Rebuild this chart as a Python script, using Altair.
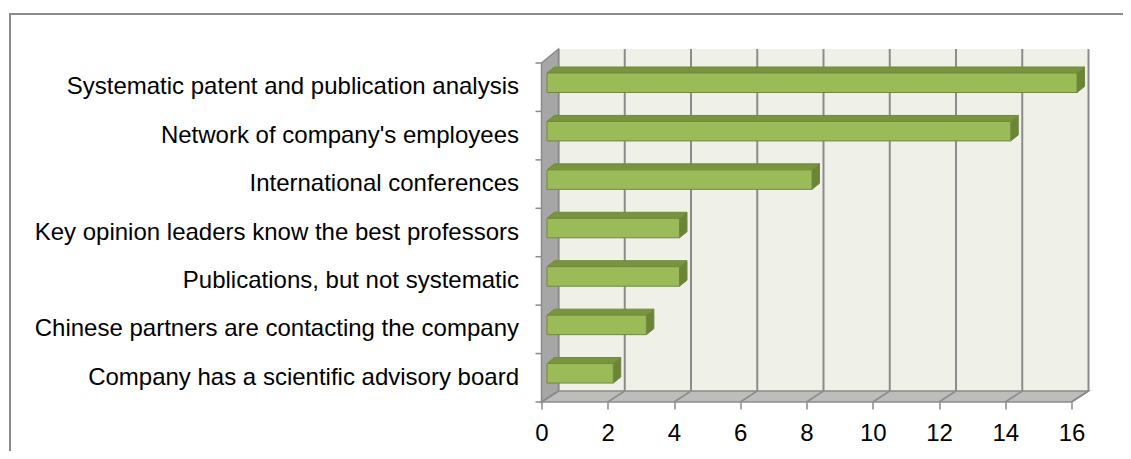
import altair as alt
import pandas as pd

# ---------------- data ----------------
categories = [
    "Systematic patent and publication analysis",
    "Network of company's employees",
    "International conferences",
    "Key opinion leaders know the best professors",
    "Publications, but not systematic",
    "Chinese partners are contacting the company",
    "Company has a scientific advisory board",
]
values = [16, 14, 8, 4, 4, 3, 2]
x_ticks = [0, 2, 4, 6, 8, 10, 12, 14, 16]

# ---------------- style / geometry ----------------
W, H = 530, 339
N = len(categories)
XMAX = 16
PXX = XMAX / W          # x data units per pixel
PXY = N / H             # y data units per pixel
DX, DYT, DYB = 17, -14, -11   # 3-D depth of the walls (px)
BX, BY = 7.5, 6               # 3-D depth of the bars (px)
BOFF = 5.5                    # bar front face shift (px)
BT, BB = 10, 29.5             # bar front face top / bottom inside band (px)
FONT = "Liberation Sans"
PAD_L, PAD_T = 533.5, 55
PAD_R = 1115 - PAD_L - W
PAD_B = 443 - PAD_T - H

WALL = "#EFF1E8"
LWALL = "#A6A6A6"
FLOOR = "#BDBEB9"
GRID = "#8C8C8C"
EDGE = "#8A8A8A"
FRONT = "#9BBB59"
TOP = "#78953E"
SIDE = "#6A8634"
OUTLINE = "#71893F"

df = pd.DataFrame({"category": categories, "value": values, "idx": list(range(N))})
ticks_df = pd.DataFrame({"tick": x_ticks})
bounds_df = pd.DataFrame({"b": list(range(N + 1))})
edges_df = pd.DataFrame({"edge": [0, 1]})
one_df = pd.DataFrame({"k": [0]})
bar_edges = df.merge(edges_df, how="cross")

xs = alt.Scale(domain=[0, XMAX], nice=False, zero=False)
ys = alt.Scale(domain=[0, N], reverse=True, nice=False, zero=False)
xaxis = alt.Axis(
    values=x_ticks, title=None, grid=False, domain=False,
    tickSize=7, tickColor=EDGE, tickWidth=1.5,
    labelFontSize=24, labelFont=FONT, labelColor="#000000",
    labelPadding=12, labelFlush=False, labelOverlap=False,
)


def X(*args, **kw):
    return alt.X(*args, scale=xs, axis=xaxis, **kw)


def Y(*args, **kw):
    return alt.Y(*args, scale=ys, axis=None, **kw)


# outer chart frame
border = alt.Chart(one_df).mark_rect(filled=False, stroke="#8C8C8C", strokeWidth=2).encode(
    x=alt.value(10 - 8 - PAD_L), x2=alt.value(W + 300),
    y=alt.value(14 - 8 - PAD_T), y2=alt.value(H + 300)
)

# back wall
back = alt.Chart(one_df).mark_rect(
    fill=WALL, xOffset=DX + 0.5, x2Offset=DX - 0.5, yOffset=DYT, y2Offset=DYB
).encode(
    x=X(datum=0), x2=alt.X2(datum=XMAX),
    y=Y(datum=0), y2=alt.Y2(datum=N),
)

bgrid = alt.Chart(ticks_df).mark_rule(
    color=GRID, strokeWidth=2, xOffset=DX, yOffset=DYT, y2Offset=DYB
).encode(
    x=X("tick:Q"),
    y=Y(datum=0), y2=alt.Y2(datum=N),
)

# left wall
lwall = alt.Chart(edges_df).transform_calculate(
    lx=f"datum.edge*{DX * PXX}",
    ly=f"datum.edge*{DYT * PXY}",
    ly2=f"{N} + datum.edge*{DYB * PXY}",
).mark_area(orient="vertical", fill=LWALL, stroke=EDGE, strokeWidth=1.5).encode(
    x=X("lx:Q"),
    y=Y("ly:Q"), y2="ly2:Q",
)

# floor
floor = alt.Chart(edges_df).transform_calculate(
    fx=f"datum.edge*{DX * PXX}",
    fx2=f"{XMAX} + datum.edge*{DX * PXX}",
    fy=f"{N} + datum.edge*{DYB * PXY}",
).mark_area(orient="horizontal", fill=FLOOR, stroke=EDGE, strokeWidth=1.5).encode(
    y=Y("fy:Q"),
    x=X("fx:Q"), x2="fx2:Q",
)

fgrid = alt.Chart(ticks_df).transform_calculate(
    gx2=f"datum.tick + {DX * PXX}",
).mark_rule(color=GRID, strokeWidth=1.5, y2Offset=DYB).encode(
    x=X("tick:Q"), x2="gx2:Q",
    y=Y(datum=N), y2=alt.Y2(datum=N),
)

# y tick marks at band boundaries
yticks = alt.Chart(bounds_df).mark_rule(color=EDGE, strokeWidth=1.5, xOffset=-6).encode(
    x=X(datum=0), x2=alt.X2(datum=0),
    y=Y("b:Q"),
)

# bar side faces
side = alt.Chart(bar_edges).transform_calculate(
    sx=f"datum.value + ({BOFF} + {BX}*datum.edge)*{PXX}",
    sy=f"datum.idx + ({BT} - {BY}*datum.edge)*{PXY}",
    sy2=f"datum.idx + ({BB} - {BY}*datum.edge)*{PXY}",
).mark_area(orient="vertical", fill=SIDE, stroke=OUTLINE, strokeWidth=1).encode(
    x=X("sx:Q"),
    y=Y("sy:Q"), y2="sy2:Q",
    detail="category:N",
)

# bar top faces
top = alt.Chart(bar_edges).transform_calculate(
    tx=f"({BOFF} + {BX}*datum.edge)*{PXX}",
    tx2=f"datum.value + ({BOFF} + {BX}*datum.edge)*{PXX}",
    ty=f"datum.idx + ({BT} - {BY}*datum.edge)*{PXY}",
).mark_area(orient="horizontal", fill=TOP, stroke=OUTLINE, strokeWidth=1).encode(
    y=Y("ty:Q"),
    x=X("tx:Q"), x2="tx2:Q",
    detail="category:N",
)

# bar front faces
front = alt.Chart(df).mark_rect(
    fill=FRONT, stroke=OUTLINE, strokeWidth=1,
    xOffset=BOFF, x2Offset=BOFF, yOffset=BT, y2Offset=BB,
).encode(
    x=X("value:Q"),
    x2=alt.X2(datum=0),
    y=Y("idx:Q"), y2=alt.Y2("idx:Q"),
)

labels = alt.Chart(df).transform_calculate(ym="datum.idx + 0.5").mark_text(
    align="right", baseline="middle", dx=-22.5, font=FONT, fontSize=24, color="#000000"
).encode(
    x=X(datum=0),
    y=Y("ym:Q"),
    text="category:N",
)

chart = alt.layer(
    border, back, bgrid, lwall, floor, fgrid, yticks, side, top, front, labels
).properties(
    width=W, height=H,
    padding={"left": PAD_L, "top": PAD_T, "right": PAD_R, "bottom": PAD_B},
    autosize=alt.AutoSizeParams(type="none"),
).configure_view(stroke=None)

chart.save("out.html", embed_options={"renderer": "svg", "actions": False})
